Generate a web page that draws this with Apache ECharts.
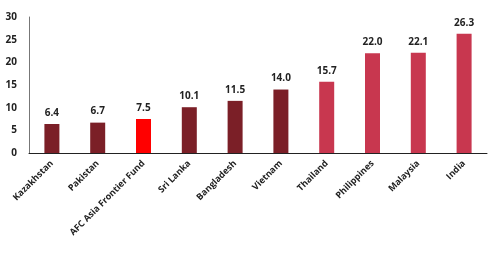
<!DOCTYPE html>
<html><head><meta charset="utf-8">
<script src="https://cdn.jsdelivr.net/npm/echarts@6/dist/echarts.min.js"></script>
<style>html,body{margin:0;padding:0;background:#fff}#c{width:500px;height:257px}</style>
</head><body><div id="c"></div>
<script>
const categories = ['Kazakhstan','Pakistan','AFC Asia Frontier Fund','Sri Lanka','Bangladesh','Vietnam','Thailand','Philippines','Malaysia','India'];
const values = [6.4, 6.7, 7.5, 10.1, 11.5, 14.0, 15.7, 22.0, 22.1, 26.3];
const groups = ['frontier','frontier','fund','frontier','frontier','frontier','emerging','emerging','emerging','emerging'];
const yTicks = [0, 5, 10, 15, 20, 25, 30];
const colorMap = {frontier:'#7b1f27', fund:'#ff0000', emerging:'#c8374f'};
const chart = echarts.init(document.getElementById('c'), null, {renderer:'canvas'});
chart.setOption({
  animation:false,
  grid:{left:29, right:13, top:17, bottom:104, containLabel:false},
  xAxis:{type:'category', data:categories,
    axisLine:{lineStyle:{color:'#222', width:1}}, axisTick:{show:false},
    axisLabel:{rotate:45, interval:0, fontFamily:'Open Sans', fontWeight:'bold', fontSize:9, color:'#222', margin:9}},
  yAxis:{type:'value', min:0, max:30, interval:5,
    axisLine:{show:true, lineStyle:{color:'#777'}}, axisTick:{show:false}, splitLine:{show:false},
    axisLabel:{fontFamily:'Open Sans', fontWeight:'bold', fontSize:10, color:'#222', margin:12,
      formatter:v=>yTicks.includes(v)?String(v):''}},
  series:[{type:'bar', barWidth:15,
    data:values.map((v,i)=>({value:v, itemStyle:{color:colorMap[groups[i]]}})),
    label:{show:true, position:'top', distance:6, formatter:p=>p.value.toFixed(1),
      fontFamily:'Open Sans', fontWeight:'bold', fontSize:10, color:'#222'}}]
});
</script></body></html>
